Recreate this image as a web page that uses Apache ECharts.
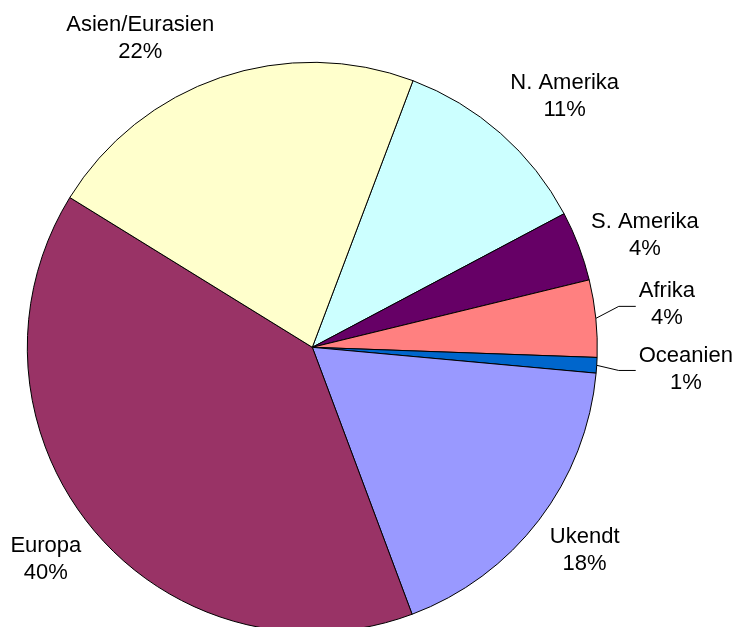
<!DOCTYPE html>
<html>
<head>
<meta charset="utf-8">
<script src="https://cdn.jsdelivr.net/npm/echarts@6/dist/echarts.min.js"></script>
<style>
html,body{margin:0;padding:0;background:#fff;}
#chart{width:733px;height:627px;}
</style>
</head>
<body>
<div id="chart"></div>
<script>
// ---- data ----
const regions = ['N. Amerika', 'S. Amerika', 'Afrika', 'Oceanien', 'Ukendt', 'Europa', 'Asien/Eurasien'];
const shares = [11.49, 3.96, 4.37, 0.88, 17.86, 39.5, 21.94];
const sliceColors = ['#CCFFFF', '#660066', '#FF8080', '#0066CC', '#9999FF', '#993366', '#FFFFCC'];

// ---- layout ----
const CX = 312.3, CY = 347.3, R = 285;
const START_COMPASS = 20.69;           // first slice starts at this clockwise angle from 12 o'clock
const LABEL_DIST = R + 10;
const FONT_FAMILY = '"Liberation Sans", Arial, sans-serif';
const FONT_SIZE = 22, LINE_H = 27;
// labels that were moved off their natural place, with a leader line
const leaderNudge = { 'Afrika': [30, -10], 'Oceanien': [29, 5.5] };

const total = shares.reduce((a, b) => a + b, 0);
const midAngles = [];
{
  let acc = 0;
  shares.forEach(v => { midAngles.push(START_COMPASS + (acc + v / 2) / total * 360); acc += v; });
}

function clamp(v, a, b) { return Math.max(a, Math.min(b, v)); }
const measureCtx = document.createElement('canvas').getContext('2d');
measureCtx.font = FONT_SIZE + 'px ' + FONT_FAMILY;

const graphics = [];
regions.forEach((name, i) => {
  const lines = [name, Math.round(shares[i] / total * 100) + '%'];
  const w = Math.max(...lines.map(t => measureCtx.measureText(t).width));
  const h = LINE_H * lines.length;
  const th = midAngles[i] * Math.PI / 180;
  const s = Math.sin(th), c = Math.cos(th);
  const ax = CX + LABEL_DIST * s, ay = CY - LABEL_DIST * c;
  const kx = clamp(Math.abs(s) / 0.3, 0, 1);
  const ky = clamp((Math.abs(c) - 0.3) / 0.3, 0, 1);
  let x = ax + Math.sign(s) * (w / 2 + 3) * kx;
  let y = ay - Math.sign(c) * (h / 2) * ky - 2.5;
  if (leaderNudge[name]) {
    x += leaderNudge[name][0];
    y += leaderNudge[name][1];
    const left = x - w / 2;
    const ly = y + 1.5;
    graphics.push({
      type: 'polyline',
      z: 10,
      silent: true,
      shape: { points: [[CX + R * s, CY - R * c], [left - 20, ly], [left - 3, ly]] },
      style: { stroke: '#000000', lineWidth: 1, fill: null }
    });
  }
  graphics.push({
    type: 'text',
    z: 10,
    silent: true,
    x: x,
    y: y,
    style: {
      text: lines.join('\n'),
      fill: '#000000',
      fontFamily: FONT_FAMILY,
      fontSize: FONT_SIZE,
      lineHeight: LINE_H,
      align: 'center',
      verticalAlign: 'middle'
    }
  });
});

const chart = echarts.init(document.getElementById('chart'), null, { renderer: 'canvas' });
chart.setOption({
  animation: false,
  backgroundColor: '#ffffff',
  series: [{
    type: 'pie',
    center: [CX, CY],
    radius: [0, R],
    startAngle: 90 - START_COMPASS,
    clockwise: true,
    avoidLabelOverlap: false,
    silent: true,
    data: regions.map((name, i) => ({ name: name, value: shares[i], itemStyle: { color: sliceColors[i] } })),
    itemStyle: { borderColor: '#000000', borderWidth: 1 },
    label: { show: false },
    labelLine: { show: false },
    emphasis: { disabled: true }
  }],
  graphic: graphics
});
</script>
</body>
</html>
